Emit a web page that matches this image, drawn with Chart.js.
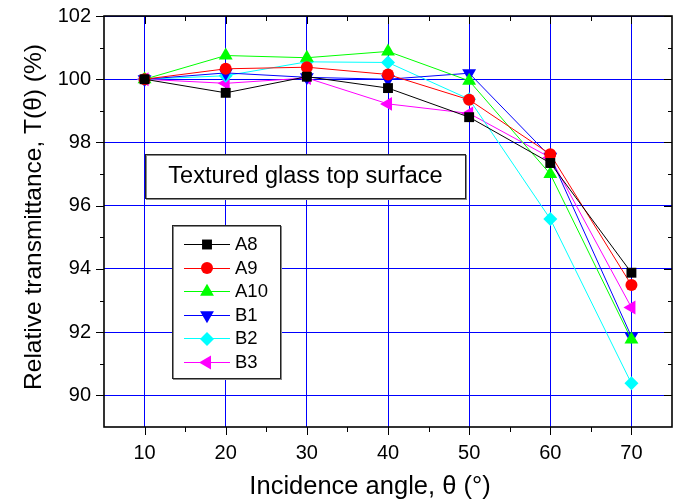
<!DOCTYPE html>
<html>
<head>
<meta charset="utf-8">
<script src="https://cdn.jsdelivr.net/npm/chart.js@4.4.0/dist/chart.umd.min.js"></script>
<style>
    html, body { margin: 0; padding: 0; background: #fff; }
</style>
</head>
<body>
<canvas id="Chart1" width="673" height="501"></canvas>
<script>
// incidence angle (deg)
const angles = [10, 20, 30, 40, 50, 60, 70];

// relative transmittance (%)
const a8  = [100, 99.57, 100.08, 99.72, 98.80, 97.35, 93.88];
const a9  = [100, 100.33, 100.38, 100.15, 99.35, 97.63, 93.49];
const a10 = [100, 100.75, 100.68, 100.88, 99.95, 97.00, 91.77];
const b1  = [100, 100.20, 100.06, 100.00, 100.19, 97.55, 91.86];
const b2  = [100, 100.11, 100.55, 100.53, 99.37, 95.58, 90.38];
const b3  = [100, 99.87, 100.04, 99.22, 98.92, 97.52, 92.78];

const xTicks = [10, 20, 30, 40, 50, 60, 70];
const xMinor = [15, 25, 35, 45, 55, 65];
const yTicks = [90, 92, 94, 96, 98, 100, 102];
const yMinor = [91, 93, 95, 97, 99, 101];

const FONT = '"Liberation Sans", Arial, sans-serif';

const series = [
    { label: 'A8',  values: a8,  color: '#000000', style: 'rect',     rot: 0,   r: 7 },
    { label: 'A9',  values: a9,  color: '#ff0000', style: 'circle',   rot: 0,   r: 6 },
    { label: 'A10', values: a10, color: '#00ff00', style: 'triangle', rot: 0,   r: 8 },
    { label: 'B1',  values: b1,  color: '#0000ff', style: 'triangle', rot: 180, r: 8 },
    { label: 'B2',  values: b2,  color: '#00ffff', style: 'rectRot',  rot: 0,   r: 7 },
    { label: 'B3',  values: b3,  color: '#ff00ff', style: 'triangle', rot: -90, r: 8 }
];

const datasets = series.map(s => ({
    label: s.label,
    data: angles.map((a, i) => ({ x: a, y: s.values[i] })),
    borderColor: s.color,
    backgroundColor: s.color,
    borderWidth: 1,
    pointStyle: s.style,
    rotation: s.rot,
    pointRadius: s.r,
    pointBorderWidth: 0,
    tension: 0
}));

// frame, ticks, titles, text box and legend
const decor = {
    id: 'decor',
    beforeDatasetsDraw(chart) {
        const ctx = chart.ctx;
        ctx.save();

        // text box
        ctx.fillStyle = '#fff';
        ctx.fillRect(145, 154, 321, 45);
        ctx.strokeStyle = '#888';
        ctx.lineWidth = 1;
        ctx.strokeRect(146.5, 155.5, 320, 44);
        ctx.strokeStyle = '#222';
        ctx.strokeRect(145.5, 154.5, 320, 44);
        ctx.fillStyle = '#000';
        ctx.font = '23.5px ' + FONT;
        ctx.textAlign = 'center';
        ctx.textBaseline = 'middle';
        ctx.fillText('Textured glass top surface', 305.5, 177);

        // legend box
        ctx.fillStyle = '#fff';
        ctx.fillRect(172, 225, 109, 154);
        ctx.strokeStyle = '#888';
        ctx.strokeRect(173.5, 226.5, 108, 153);
        ctx.strokeStyle = '#222';
        ctx.strokeRect(172.5, 225.5, 108, 153);

        ctx.font = '18.5px ' + FONT;
        ctx.textAlign = 'left';
        chart.data.datasets.forEach((ds, i) => {
            const y = 244 + i * 23.6;
            ctx.strokeStyle = ds.borderColor;
            ctx.lineWidth = 1;
            ctx.beginPath();
            ctx.moveTo(184, Math.round(y) + 0.5);
            ctx.lineTo(230, Math.round(y) + 0.5);
            ctx.stroke();
            ctx.fillStyle = ds.backgroundColor;
            Chart.helpers.drawPoint(ctx, {
                pointStyle: ds.pointStyle,
                rotation: ds.rotation,
                radius: ds.pointRadius,
                borderWidth: 0
            }, 207, y + 0.5);
            ctx.fillStyle = '#000';
            ctx.fillText(ds.label, 235, y + 1);
        });
        ctx.restore();
    },
    afterDraw(chart) {
        const ctx = chart.ctx;
        const a = chart.chartArea;
        const xs = chart.scales.x, ys = chart.scales.y;
        ctx.save();
        ctx.strokeStyle = '#000';
        ctx.lineWidth = 1;

        const vTick = (v, len) => {
            const px = Math.round(xs.getPixelForValue(v)) + 0.5;
            ctx.beginPath();
            ctx.moveTo(px, a.bottom); ctx.lineTo(px, a.bottom + len);
            ctx.moveTo(px, a.top); ctx.lineTo(px, a.top + len);
            ctx.stroke();
        };
        const hTick = (v, len) => {
            const py = Math.round(ys.getPixelForValue(v)) + 0.5;
            ctx.beginPath();
            ctx.moveTo(a.left, py); ctx.lineTo(a.left - len, py);
            ctx.moveTo(a.right, py); ctx.lineTo(a.right - len, py);
            ctx.stroke();
        };
        xTicks.forEach(v => vTick(v, 8));
        xMinor.forEach(v => vTick(v, 5));
        yTicks.forEach(v => hTick(v, 8));
        yMinor.forEach(v => hTick(v, 4));

        ctx.lineWidth = 1.6;
        ctx.strokeRect(a.left, a.top, a.right - a.left, a.bottom - a.top);

        // axis titles
        ctx.fillStyle = '#000';
        ctx.textAlign = 'center';
        ctx.textBaseline = 'middle';
        ctx.font = '25.5px ' + FONT;
        ctx.fillText('Incidence angle, \u03b8 (\u00b0)', 370, 487);
        ctx.font = '24.5px ' + FONT;
        ctx.translate(34, 217);
        ctx.rotate(-Math.PI / 2);
        ctx.fillText('Relative transmittance, T(\u03b8) (%)', 0, 0);
        ctx.restore();
    }
};

const ctx = document.getElementById('Chart1').getContext('2d');
new Chart(ctx, {
    type: 'line',
    data: { datasets: datasets },
    plugins: [decor],
    options: {
        responsive: false,
        animation: false,
        layout: { autoPadding: false, padding: { top: 16, right: 1, left: 0, bottom: 0 } },
        plugins: { legend: { display: false }, tooltip: { enabled: false } },
        scales: {
            x: {
                type: 'linear',
                min: 5,
                max: 75,
                afterBuildTicks: s => { s.ticks = xTicks.map(v => ({ value: v })); },
                afterFit: s => { s.height = 74; s.paddingLeft = 0; s.paddingRight = 0; },
                grid: { color: '#0000ff', lineWidth: 1, drawTicks: false },
                border: { display: false },
                ticks: { color: '#000', padding: 14, font: { family: FONT, size: 20 }, maxRotation: 0 }
            },
            y: {
                min: 89,
                max: 102,
                afterBuildTicks: s => { s.ticks = yTicks.map(v => ({ value: v })); },
                afterFit: s => { s.width = 104; s.paddingTop = 0; s.paddingBottom = 0; },
                grid: { color: '#0000ff', lineWidth: 1, drawTicks: false },
                border: { display: false },
                ticks: { color: '#000', padding: 13, font: { family: FONT, size: 20 } }
            }
        }
    }
});
</script>
</body>
</html>
